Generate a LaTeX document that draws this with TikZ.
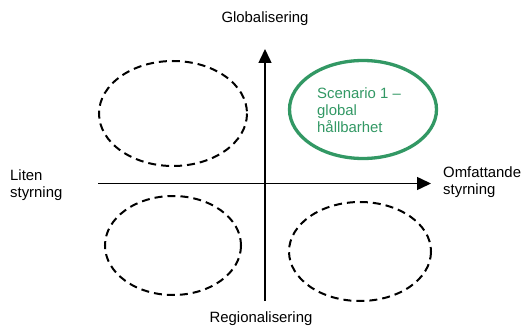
\documentclass[tikz,border=0pt]{standalone}
\usepackage{fontspec}
\setmainfont{Liberation Sans}
\usepackage{tikz}
\usetikzlibrary{arrows.meta}

\definecolor{scengreen}{RGB}{50,152,100}

\begin{document}
\begin{tikzpicture}[x=1pt, y=-1pt]
	  \tikzstyle{every node} = [font=\fontsize{14.9}{17}\selectfont, inner sep=0pt]
	  \tikzstyle{axis} = [line width=1.5pt, -{Triangle[length=14pt, width=13pt]}]
	  \tikzstyle{scen} = [dashed, dash pattern=on 8pt off 5pt, line width=2pt]
	  \useasboundingbox (0,0) rectangle (521,326);
	  % axes
	  \coordinate (w) at (98, 183.5);
	  \coordinate (e) at (431, 183.5);
	  \coordinate (s) at (265, 301);
	  \coordinate (n) at (265, 49);
	  \draw [axis] (w) -- (e);
	  \draw [axis] (s) -- (n);
	  % labels
	  \node (glob) at (265, 19) {Globalisering};
	  \node (reg) at (261, 319) {Regionalisering};
	  \node (liten) [anchor=west, align=left] at (10, 185.5) {Liten\\styrning};
	  \node (omf) [anchor=west, align=left] at (443, 182) {Omfattande\\styrning};
	  % scenarios
	  \draw [scen] (173, 113.5) ellipse [x radius=74, y radius=52.5];
	  \draw [scen] (173, 245.5) ellipse [x radius=68, y radius=49.5];
	  \draw [scen] (360, 251.5) ellipse [x radius=71, y radius=49.5];
	  \draw [scengreen, line width=3.3pt] (363, 109.5) ellipse [x radius=73.5, y radius=49];
	  \node (s1) [anchor=west, align=left, text=scengreen] at (317, 110) {Scenario 1 --\\global\\hållbarhet};
	\end{tikzpicture}
\end{document}
